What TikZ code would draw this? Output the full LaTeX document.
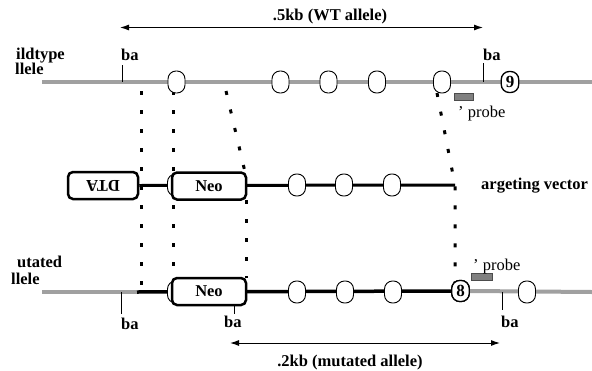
\documentclass[tikz,border=0pt]{standalone}
\usepackage{fontspec}
\setmainfont{Liberation Serif}
\usetikzlibrary{arrows.meta}
\definecolor{lgray}{HTML}{A0A0A0}
\definecolor{pgray}{HTML}{808080}
\begin{document}
\begin{tikzpicture}[x=1pt,y=-1pt,
  lbl/.style={font=\fontsize{16.5}{18}\selectfont\bfseries, inner sep=0pt, anchor=base west},
  clbl/.style={font=\fontsize{16.5}{18}\selectfont\bfseries, inner sep=0pt, anchor=base},
  plbl/.style={font=\fontsize{16.5}{18}\selectfont, inner sep=0pt, anchor=base west},
  exon/.style={draw=black, line width=0.9pt, fill=white, rounded corners=8pt, minimum width=17pt, minimum height=22pt, inner sep=0pt},
  nexon/.style={draw=black, line width=1.3pt, fill=white, rounded corners=8pt, minimum width=17.5pt, minimum height=21pt, inner sep=0pt, font=\fontsize{17}{18}\selectfont\bfseries},
  cassette/.style={draw=black, line width=2.5pt, fill=white, rounded corners=5pt, minimum height=27pt, inner sep=0pt, font=\fontsize{16.5}{18}\selectfont\bfseries},
  gline/.style={line width=4pt, draw=lgray},
  bline/.style={line width=3pt, draw=black},
  dots/.style={line width=3pt, dash pattern=on 4pt off 15pt},
  tickline/.style={line width=0.8pt},
  probebox/.style={draw=black!70, fill=pgray, line width=0.6pt, minimum height=7pt, inner sep=0pt},
  dimarrow/.style={line width=1pt, {Latex[length=9pt,width=6pt]}-{Latex[length=9pt,width=6pt]}}
]
\useasboundingbox (0,0) rectangle (592,370);

% ---------- coordinates ----------
\coordinate (wtL) at (42,82);
\coordinate (wtR) at (592,82);
\coordinate (tR) at (455,185);
\coordinate (mL) at (42,292);
\coordinate (m1) at (137,292);
\coordinate (mR) at (592,292);

% ---------- dotted alignment lines ----------
\coordinate (d1a) at (141,91);
\coordinate (d1b) at (141,290);
\coordinate (d2a) at (173,91);
\coordinate (d2b) at (173,278);
\coordinate (d3a) at (226,91);
\coordinate (d3b) at (245,172);
\coordinate (d3c) at (246,200);
\coordinate (d3d) at (246,278);
\coordinate (d4a) at (437,93);
\coordinate (d4b) at (455,283);
\draw[dots] (d1a) -- (d1b);
\draw[dots] (d2a) -- (d2b);
\draw[dots] (d3a) -- (d3b);
\draw[dots] (d3c) -- (d3d);
\draw[dots] (d4a) -- (tR) -- (d4b);

% ---------- wildtype allele ----------
\draw[gline] (wtL) -- (wtR);
\node[exon] (w1) at (176.5,82) {};
\node[exon] (w2) at (280.5,82) {};
\node[exon] (w3) at (328.5,82) {};
\node[exon] (w4) at (377,82) {};
\node[exon] (w5) at (442,82) {};
\node[nexon] (w9) at (510,82) {9};
\coordinate (wb1a) at (122,65);
\coordinate (wb1b) at (122,82);
\coordinate (wb2a) at (483,63);
\coordinate (wb2b) at (483,82);
\draw[tickline] (wb1a) -- (wb1b);
\draw[tickline] (wb2a) -- (wb2b);
\node[lbl] (wba1) at (121,60) {ba};
\node[lbl] (wba2) at (483,60) {ba};
\node[probebox, minimum width=19pt] (wprobe) at (463.5,96.5) {};
\node[plbl] (wprobelbl) at (458,117) {' probe};
\node[lbl] (wtl1) at (16,59) {ildtype};
\node[lbl] (wtl2) at (15,74) {llele};

% ---------- targeting vector ----------
\node[cassette, minimum width=70pt, rotate=180] (dta) at (103,185.5) {DTA};
\draw[bline] (dta.west) -- (tR);
\node[exon] (t0) at (176,185) {};
\node[cassette, minimum width=74pt] (tneo) at (209,186) {Neo};
\node[exon] (t1) at (297,185) {};
\node[exon] (t2) at (344,185) {};
\node[exon] (t3) at (392,185) {};
\node[lbl] (tvl) at (481,189) {argeting vector};

% ---------- mutated allele ----------
\node[nexon] (m8) at (460.5,291) {8};
\draw[gline] (mL) -- (m1);
\draw[bline, line width=3.5pt] (m1) -- (m8.west);
\draw[gline] (m8.east) -- (mR);
\node[nexon] (m8b) at (460.5,291) {8};
\node[exon] (mx0) at (176,292) {};
\node[cassette, minimum width=74pt] (mneo) at (209,291.5) {Neo};
\node[exon] (mx1) at (297,292) {};
\node[exon] (mx2) at (345,292) {};
\node[exon] (mx3) at (393,292) {};
\node[exon] (mx4) at (527,292) {};
\coordinate (mb1a) at (121,292);
\coordinate (mb1b) at (121,314);
\coordinate (mb2a) at (234.5,305);
\coordinate (mb2b) at (234.5,314);
\coordinate (mb3a) at (502,292);
\coordinate (mb3b) at (502,310);
\draw[tickline] (mb1a) -- (mb1b);
\draw[tickline] (mb2a) -- (mb2b);
\draw[tickline] (mb3a) -- (mb3b);
\node[lbl] (mba1) at (121,329) {ba};
\node[lbl] (mba2) at (224,327) {ba};
\node[lbl] (mba3) at (501,327) {ba};
\node[probebox, minimum width=21pt] (mprobe) at (481.5,276.5) {};
\node[plbl] (mprobelbl) at (473,270) {' probe};
\node[lbl] (mtl1) at (17,267) {utated};
\node[lbl] (mtl2) at (11,284) {llele};

% ---------- size arrows ----------
\coordinate (ta1) at (120,27.5);
\coordinate (ta2) at (483,27.5);
\draw[dimarrow] (ta1) -- (ta2);
\node[clbl] (talbl) at (330,20.5) {.5kb (WT allele)};
\coordinate (ba1) at (230,343);
\coordinate (ba2) at (500,343);
\draw[dimarrow] (ba1) -- (ba2);
\node[clbl] (balbl) at (350,366) {.2kb (mutated allele)};
\end{tikzpicture}
\end{document}
